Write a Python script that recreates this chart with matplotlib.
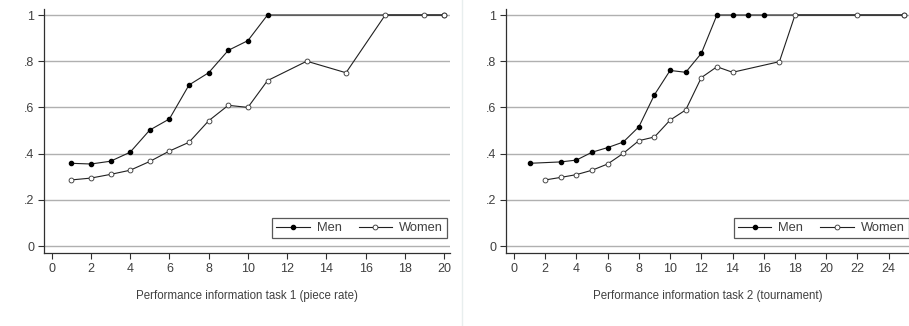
import matplotlib.pyplot as plt
from matplotlib.lines import Line2D

plt.rcParams['font.family'] = ['Liberation Sans', 'DejaVu Sans']

# Task 1 (piece rate)
men1_x = [1, 2, 3, 4, 5, 6, 7, 8, 9, 10, 11, 20]
men1_y = [0.358, 0.355, 0.367, 0.406, 0.502, 0.55, 0.697, 0.75, 0.847, 0.889, 1.0, 1.0]
women1_x = [1, 2, 3, 4, 5, 6, 7, 8, 9, 10, 11, 13, 15, 17, 19, 20]
women1_y = [0.286, 0.294, 0.31, 0.328, 0.366, 0.411, 0.449, 0.542, 0.609, 0.600,
            0.716, 0.80, 0.75, 1.0, 1.0, 1.0]

# Task 2 (tournament)
men2_x = [1, 3, 4, 5, 6, 7, 8, 9, 10, 11, 12, 13, 14, 15, 16, 25]
men2_y = [0.358, 0.364, 0.372, 0.406, 0.426, 0.45, 0.516, 0.655, 0.76, 0.752, 0.834,
          1.0, 1.0, 1.0, 1.0, 1.0]
women2_x = [2, 3, 4, 5, 6, 7, 8, 9, 10, 11, 12, 13, 14, 17, 18, 22, 25]
women2_y = [0.286, 0.297, 0.309, 0.328, 0.355, 0.401, 0.456, 0.472, 0.545, 0.589,
            0.729, 0.776, 0.752, 0.798, 1.0, 1.0, 1.0]

yticks = [0, 0.2, 0.4, 0.6, 0.8, 1.0]
ytick_labels = ['0', '.2', '.4', '.6', '.8', '1']

fig = plt.figure(figsize=(9.09, 3.26), dpi=100)
ax1 = fig.add_axes([44 / 909, 1 - 253 / 326, 406 / 909, 243.7 / 326])
ax2 = fig.add_axes([506 / 909, 1 - 253 / 326, 403 / 909, 243.7 / 326])

# thin divider between the two graphs
fig.add_artist(Line2D([462 / 909, 462 / 909], [0, 1], color='#e8eeee', lw=1))

txt = '#404040'


def draw(ax, mx, my, wx, wy, xmax, xlim, xlabel, leg_x):
    ax.plot(mx, my, color='#202020', lw=0.8, marker='o', ms=3,
            mfc='black', mec='black', label='Men', zorder=3)
    ax.plot(wx, wy, color='#202020', lw=0.8, marker='o', ms=3.5,
            mfc='white', mec='#303030', mew=0.6, label='Women', zorder=4)
    ax.set_xlim(*xlim)
    ax.set_ylim(-0.0303, 1.0247)
    ax.set_xticks(range(0, xmax + 1, 2))
    ax.set_yticks(yticks)
    ax.set_yticklabels(ytick_labels)
    ax.grid(axis='y', color='#b0b0b0', lw=1)
    ax.set_axisbelow(True)
    for s in ['top', 'right']:
        ax.spines[s].set_visible(False)
    for s in ['left', 'bottom']:
        ax.spines[s].set_color('#303030')
        ax.spines[s].set_linewidth(0.9)
    ax.tick_params(direction='out', length=4, width=0.8, color='#303030',
                   labelsize=9, labelcolor=txt, pad=3)
    ax.set_xlabel(xlabel, fontsize=8.3, color=txt, labelpad=11)
    leg = ax.legend(loc='lower right', bbox_to_anchor=(leg_x, 0.0616), ncol=2,
                    fontsize=9.3, frameon=True, fancybox=False, handlelength=2.6,
                    borderpad=0.3, borderaxespad=0, columnspacing=1.3,
                    handletextpad=0.55, labelcolor=txt)
    leg.get_frame().set_edgecolor('#303030')
    leg.get_frame().set_linewidth(0.9)


draw(ax1, men1_x, men1_y, women1_x, women1_y, 20, (-0.39, 20.3),
     'Performance information task 1 (piece rate)', 0.9926)
draw(ax2, men2_x, men2_y, women2_x, women2_y, 24, (-0.51, 25.3),
     'Performance information task 2 (tournament)', 0.999)

fig.savefig('out.png', dpi=100)
